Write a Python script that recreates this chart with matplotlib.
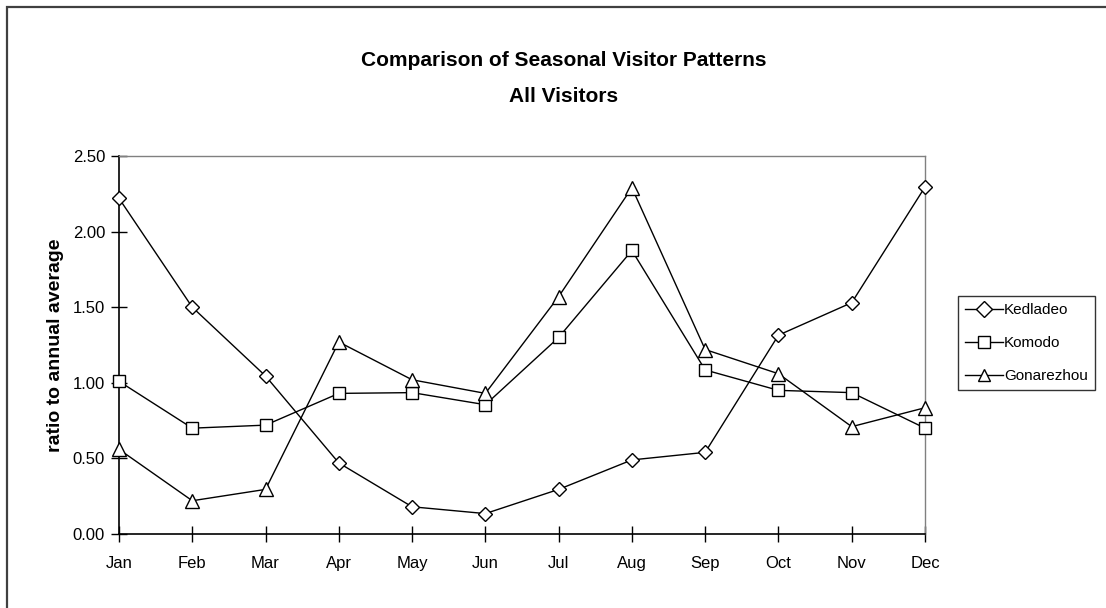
import matplotlib
matplotlib.use("Agg")
import matplotlib.pyplot as plt
from matplotlib.patches import Rectangle

months = ["Jan", "Feb", "Mar", "Apr", "May", "Jun", "Jul", "Aug", "Sep", "Oct", "Nov", "Dec"]
kedladeo = [2.22, 1.50, 1.045, 0.47, 0.18, 0.135, 0.295, 0.49, 0.54, 1.315, 1.53, 2.295]
komodo = [1.01, 0.70, 0.72, 0.93, 0.935, 0.855, 1.30, 1.875, 1.085, 0.95, 0.935, 0.70]
gonarezhou = [0.56, 0.22, 0.295, 1.27, 1.02, 0.93, 1.57, 2.29, 1.22, 1.06, 0.71, 0.835]
yticks = [0.0, 0.5, 1.0, 1.5, 2.0, 2.5]

plt.rcParams['font.family'] = ['Liberation Sans', 'DejaVu Sans']

W, H = 1106, 608
fig = plt.figure(figsize=(W / 100, H / 100), dpi=100)
fig.patch.set_facecolor("white")

# figure border (cut at right/bottom like reference)
fig.patches.append(Rectangle((7 / W, -0.05), 1.2, (H - 7) / H + 0.05, transform=fig.transFigure,
                             fill=False, edgecolor="#404040", linewidth=1.6, clip_on=False))

L, R, T, B = 119, 925, 156, 534
ax = fig.add_axes([L / W, 1 - B / H, (R - L) / W, (B - T) / H])

x = list(range(len(months)))
common = dict(color="black", linewidth=1.0, markerfacecolor="white", markeredgecolor="black",
              markeredgewidth=1.0, clip_on=False, zorder=3)
ax.plot(x, kedladeo, marker="D", markersize=7.5, label="Kedladeo", **common)
ax.plot(x, komodo, marker="s", markersize=9, label="Komodo", **common)
ax.plot(x, gonarezhou, marker="^", markersize=9.5, label="Gonarezhou", **common)

ax.set_xlim(0, 11)
ax.set_ylim(0, 2.5)
ax.set_xticks(x)
ax.set_xticklabels(months, fontsize=12)
ax.set_yticks(yticks)
ax.set_yticklabels([f"{v:.2f}" for v in yticks], fontsize=12)
ax.tick_params(axis="both", direction="inout", length=12, width=1.0, color="black")
ax.tick_params(axis="x", pad=10)
ax.tick_params(axis="y", pad=4)

for s in ["left", "bottom"]:
    ax.spines[s].set_color("black")
    ax.spines[s].set_linewidth(1.2)
for s in ["top", "right"]:
    ax.spines[s].set_color("#808080")
    ax.spines[s].set_linewidth(1.0)

ax.set_ylabel("ratio to annual average", fontsize=14, fontweight="bold", labelpad=6)

fig.text(0.51, 1 - 60 / H, "Comparison of Seasonal Visitor Patterns", ha="center", va="center",
         fontsize=15, fontweight="bold")
fig.text(0.51, 1 - 96 / H, "All Visitors", ha="center", va="center", fontsize=15, fontweight="bold")

leg = ax.legend(loc="upper left", bbox_to_anchor=(958 / W, 1 - 296 / H), bbox_transform=fig.transFigure,
                frameon=True, fancybox=False, fontsize=11, handlelength=2.5, handletextpad=0.05,
                borderpad=0.45, labelspacing=1.25, borderaxespad=0)
leg.get_frame().set_edgecolor("black")
leg.get_frame().set_linewidth(1.0)
for h in leg.legend_handles:
    h.set_markersize(8)

fig.savefig("out.png", dpi=100, facecolor="white")
